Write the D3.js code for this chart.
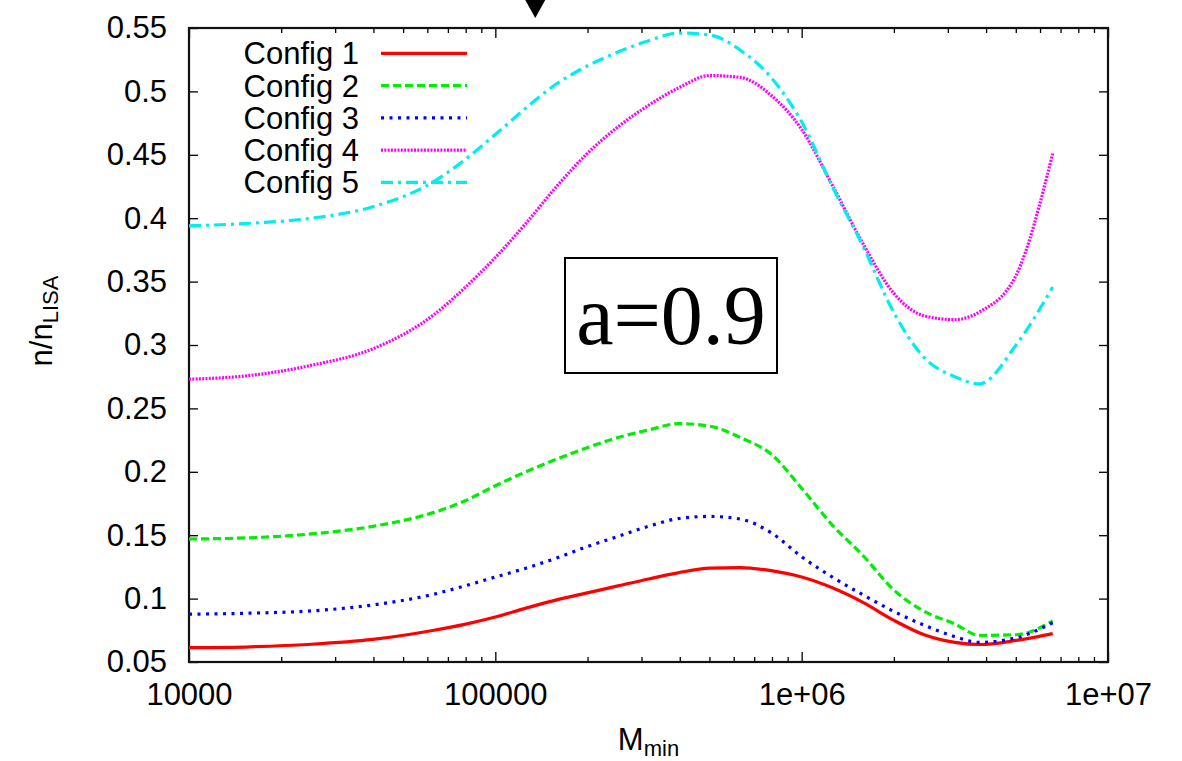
<!DOCTYPE html>
<html>
<head>
<meta charset="utf-8">
<script src="https://cdn.jsdelivr.net/npm/d3@7"></script>
<style>
  html, body { margin: 0; padding: 0; background: #ffffff; }
  svg { display: block; }
  text { font-family: "Liberation Sans", Arial, Helvetica, sans-serif; fill: #000; }
</style>
</head>
<body>
<svg id="chart" width="1182" height="761"></svg>
<script>
// ---------------- data ----------------
const masses = [1e4, 1.585e4, 2.512e4, 3.981e4, 6.31e4, 7.943e4, 1e5, 1.259e5, 1.585e5, 1.995e5,
  2.512e5, 3.162e5, 3.981e5, 5.012e5, 6.31e5, 7.943e5, 1e6, 1.259e6, 1.585e6, 1.995e6,
  2.512e6, 3.162e6, 3.8e6, 5.012e6, 6.6e6];

const config1 = [0.0613, 0.0620, 0.0640, 0.0678, 0.0750, 0.0797, 0.0855, 0.0925, 0.0990, 0.1045,
  0.1100, 0.1155, 0.1205, 0.1240, 0.1245, 0.1220, 0.1170, 0.1085, 0.0970, 0.0830,
  0.0715, 0.0655, 0.0638, 0.0670, 0.0724];
const config2 = [0.147, 0.148, 0.151, 0.157, 0.168, 0.177, 0.189, 0.200, 0.210, 0.219,
  0.227, 0.233, 0.238, 0.236, 0.227, 0.214, 0.187, 0.158, 0.134, 0.107,
  0.090, 0.080, 0.071, 0.0715, 0.0824];
const config3 = [0.0877, 0.0885, 0.0903, 0.095, 0.1035, 0.110, 0.117, 0.124, 0.132, 0.141,
  0.149, 0.157, 0.1632, 0.1648, 0.1627, 0.152, 0.133, 0.117, 0.103, 0.090,
  0.079, 0.070, 0.0655, 0.069, 0.081];
const config4 = [0.273, 0.276, 0.284, 0.297, 0.324, 0.345, 0.369, 0.396, 0.425, 0.451,
  0.472, 0.489, 0.503, 0.5125, 0.511, 0.497, 0.470, 0.426, 0.380, 0.341,
  0.323, 0.320, 0.326, 0.355, 0.451];
const config5 = [0.394, 0.396, 0.400, 0.409, 0.429, 0.446, 0.466, 0.487, 0.506, 0.520,
  0.531, 0.540, 0.546, 0.5445, 0.5325, 0.511, 0.476, 0.425, 0.378, 0.326,
  0.290, 0.275, 0.2693, 0.300, 0.3457];

const seriesNames = ["Config 1", "Config 2", "Config 3", "Config 4", "Config 5"];
const seriesValues = [config1, config2, config3, config4, config5];

const xTickValues = [1e4, 1e5, 1e6, 1e7];
const xTickLabels = ["10000", "100000", "1e+06", "1e+07"];
const yTickValues = [0.05, 0.1, 0.15, 0.2, 0.25, 0.3, 0.35, 0.4, 0.45, 0.5, 0.55];
const yTickLabels = ["0.05", "0.1", "0.15", "0.2", "0.25", "0.3", "0.35", "0.4", "0.45", "0.5", "0.55"];
const annotationText = "a=0.9";
const markerMass = 1.35e5;

// ---------------- layout / styles ----------------
const W = 1182, H = 761;
const L = 189, R = 1108, T = 28, B = 662;
const FS = 31;
const styles = [
  { color: "#ff0000", dash: null },
  { color: "#00ee00", dash: "8,4" },
  { color: "#0000ff", dash: "3,5.5" },
  { color: "#ff00ff", dash: "2,1.3" },
  { color: "#00eeee", dash: "12,5,3,5" }
];

const svg = d3.select("#chart");
svg.append("rect").attr("width", W).attr("height", H).attr("fill", "#fff");

const x = d3.scaleLog().domain([1e4, 1e7]).range([L, R]);
const y = d3.scaleLinear().domain([0.05, 0.55]).range([B, T]);

// minor ticks
const minor = [];
for (let e = 4; e < 7; e++) for (let k = 2; k <= 9; k++) minor.push(k * Math.pow(10, e));

function clean(g) { g.select(".domain").remove(); g.selectAll("line").attr("stroke", "#000").attr("stroke-width", 1.3); }
function fontify(g) { g.selectAll("text").attr("font-size", FS).attr("font-family", "Liberation Sans, Arial, sans-serif").attr("fill", "#000"); }

// bottom axis
svg.append("g").attr("transform", `translate(0,${B})`)
  .call(d3.axisBottom(x).tickValues(xTickValues).tickSize(-10).tickPadding(21)
    .tickFormat((d, i) => xTickLabels[i]))
  .call(clean).call(fontify);
svg.append("g").attr("transform", `translate(0,${B})`)
  .call(d3.axisBottom(x).tickValues(minor).tickSize(-5).tickFormat(""))
  .call(clean);
// top axis
svg.append("g").attr("transform", `translate(0,${T})`)
  .call(d3.axisTop(x).tickValues(xTickValues).tickSize(-10).tickFormat(""))
  .call(clean);
svg.append("g").attr("transform", `translate(0,${T})`)
  .call(d3.axisTop(x).tickValues(minor).tickSize(-5).tickFormat(""))
  .call(clean);
// left axis
svg.append("g").attr("transform", `translate(${L},0)`)
  .call(d3.axisLeft(y).tickValues(yTickValues).tickSize(-9).tickPadding(22)
    .tickFormat((d, i) => yTickLabels[i]))
  .call(clean).call(fontify);
// right axis
svg.append("g").attr("transform", `translate(${R},0)`)
  .call(d3.axisRight(y).tickValues(yTickValues).tickSize(-9).tickFormat(""))
  .call(clean);

// frame
svg.append("rect").attr("x", L).attr("y", T).attr("width", R - L).attr("height", B - T)
  .attr("fill", "none").attr("stroke", "#111").attr("stroke-width", 2.2);

// curves
const line = d3.line()
  .x(d => x(d[0]))
  .y(d => y(d[1]))
  .curve(d3.curveMonotoneX);

seriesValues.forEach((vals, i) => {
  const pts = masses.map((m, j) => [m, vals[j]]);
  svg.append("path")
    .attr("d", line(pts))
    .attr("fill", "none")
    .attr("stroke", styles[i].color)
    .attr("stroke-width", 3.2)
    .attr("stroke-dasharray", styles[i].dash)
    .attr("stroke-linejoin", "round");
});

// legend
const legY0 = 53.3, legStep = 32.25;
seriesNames.forEach((name, i) => {
  const ly = legY0 + i * legStep;
  svg.append("text")
    .attr("x", 359).attr("y", ly + 11)
    .attr("text-anchor", "end")
    .attr("font-size", FS)
    .text(name);
  svg.append("line")
    .attr("x1", 381).attr("x2", 467)
    .attr("y1", ly).attr("y2", ly)
    .attr("stroke", styles[i].color)
    .attr("stroke-width", 3.2)
    .attr("stroke-dasharray", styles[i].dash);
});

// annotation box
svg.append("rect").attr("x", 565).attr("y", 258).attr("width", 212).attr("height", 115)
  .attr("fill", "#fff").attr("stroke", "#000").attr("stroke-width", 2);
svg.append("text")
  .attr("x", 671).attr("y", 344)
  .attr("text-anchor", "middle")
  .style("font-family", "'Liberation Serif', 'Times New Roman', serif")
  .attr("font-size", 84)
  .text(annotationText);

// marker triangle at top
const mx = x(markerMass);
svg.append("path")
  .attr("d", d3.line()([[mx - 10, 0], [mx + 10, 0], [mx, 18]]) + "Z")
  .attr("fill", "#000");

// axis titles
const xt = svg.append("text")
  .attr("x", (L + R) / 2).attr("y", 750)
  .attr("text-anchor", "middle")
  .attr("font-size", FS);
xt.append("tspan").text("M");
xt.append("tspan").attr("font-size", 22).attr("dy", 6).text("min");

const yt = svg.append("text")
  .attr("transform", "translate(52,321) rotate(-90)")
  .attr("text-anchor", "middle")
  .attr("font-size", FS);
yt.append("tspan").text("n/n");
yt.append("tspan").attr("font-size", 22).attr("dy", 6).text("LISA");
</script>
</body>
</html>
